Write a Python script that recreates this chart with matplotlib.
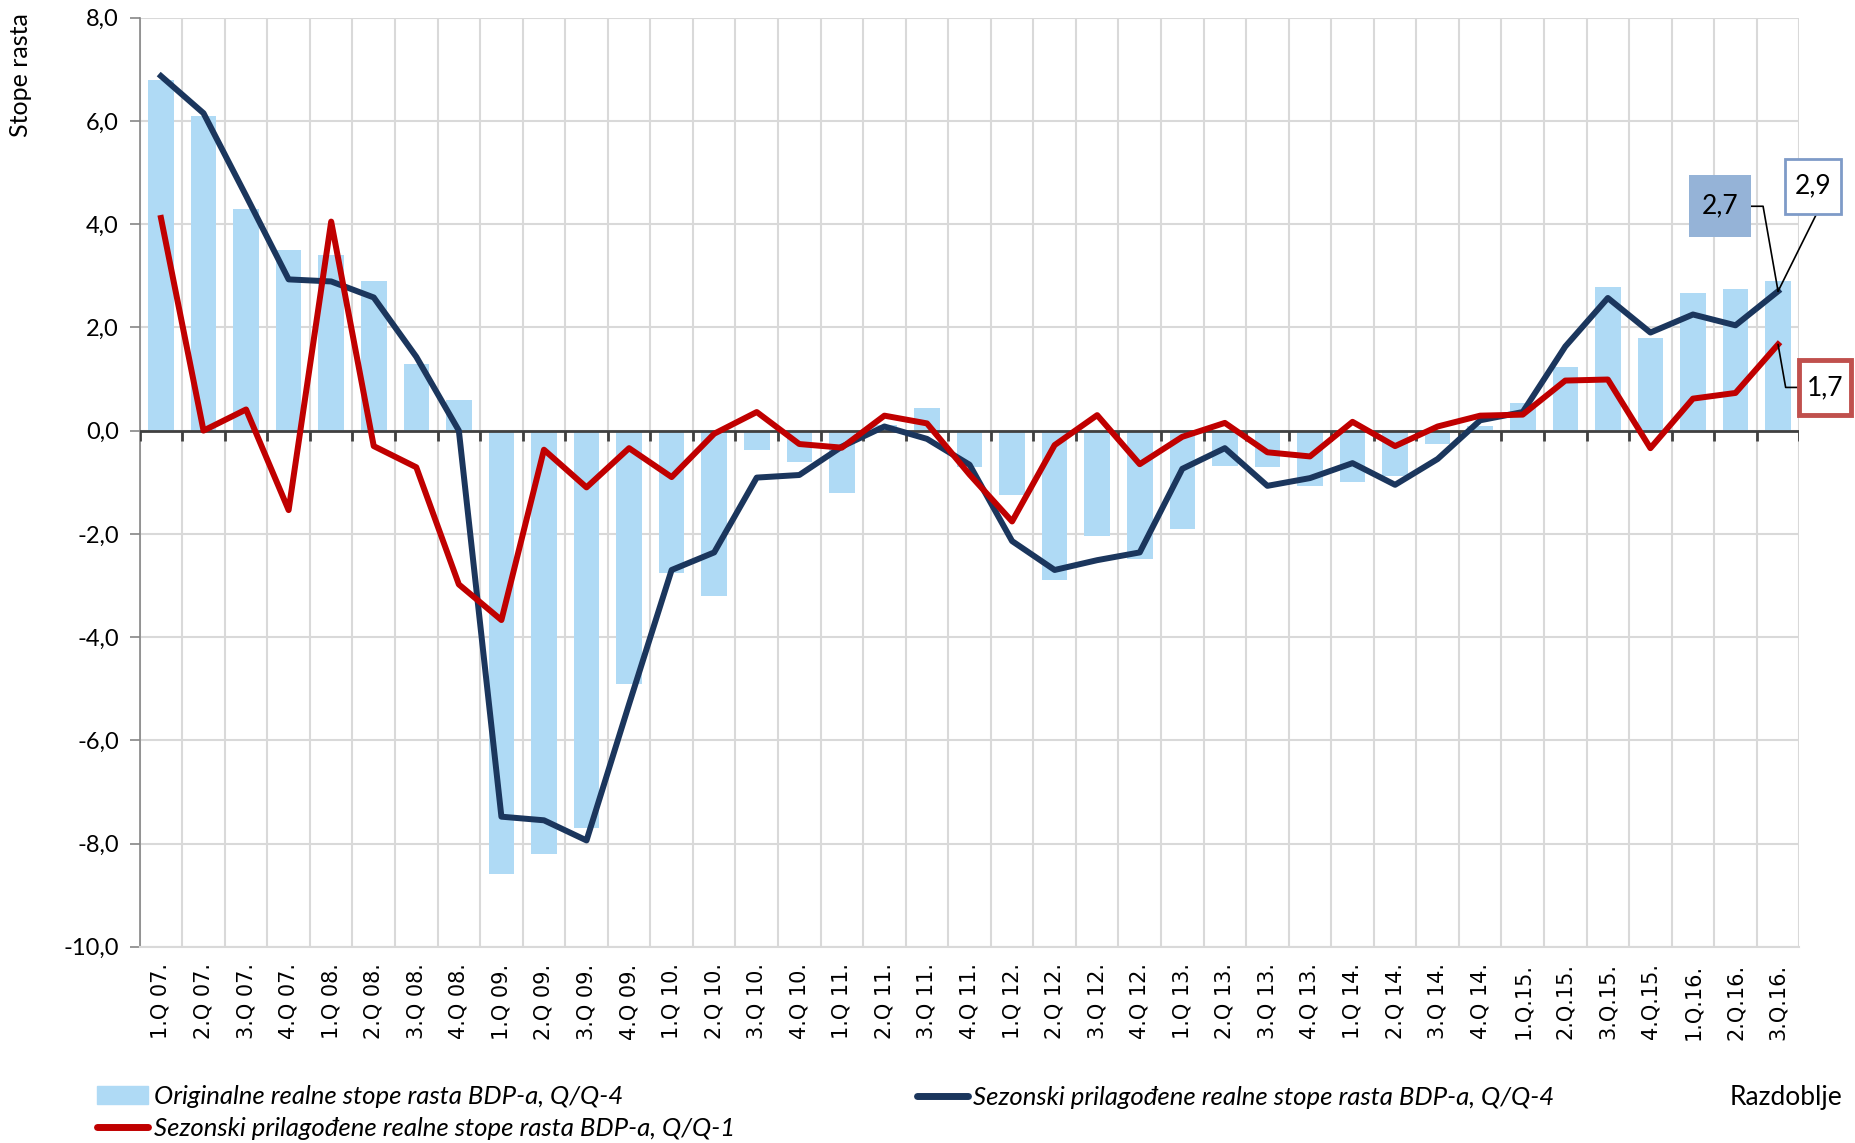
import matplotlib.pyplot as plt
import numpy as np
from matplotlib.patches import Patch
from matplotlib.lines import Line2D
from matplotlib.path import Path

# quarters 2007 - 2016
labels = ['1.Q 07.', '2.Q 07.', '3.Q 07.', '4.Q 07.',
          '1.Q 08.', '2.Q 08.', '3.Q 08.', '4.Q 08.',
          '1.Q 09.', '2.Q 09.', '3.Q 09.', '4.Q 09.',
          '1.Q 10.', '2.Q 10.', '3.Q 10.', '4.Q 10.',
          '1.Q 11.', '2.Q 11.', '3.Q 11.', '4.Q 11.',
          '1.Q 12.', '2.Q 12.', '3.Q 12.', '4.Q 12.',
          '1.Q 13.', '2.Q 13.', '3.Q 13.', '4.Q 13.',
          '1.Q 14.', '2.Q 14.', '3.Q 14.', '4.Q 14.',
          '1.Q.15.', '2.Q.15.', '3.Q.15.', '4.Q.15.',
          '1.Q.16.', '2.Q.16.', '3.Q.16.']

# original real GDP growth, Q/Q-4 (bars)
orig = [6.8, 6.1, 4.3, 3.5,
        3.4, 2.9, 1.3, 0.6,
        -8.6, -8.2, -7.7, -4.9,
        -2.75, -3.2, -0.37, -0.6,
        -1.2, 0.1, 0.43, -0.7,
        -1.25, -2.9, -2.05, -2.48,
        -1.9, -0.68, -0.7, -1.08,
        -0.99, -0.87, -0.26, 0.08,
        0.54, 1.24, 2.78, 1.8,
        2.66, 2.75, 2.9]

# seasonally adjusted, Q/Q-4 (dark blue line)
sa_yoy = [6.87, 6.15, 4.55, 2.93,
          2.89, 2.58, 1.43, 0.0,
          -7.48, -7.55, -7.94, -5.3,
          -2.7, -2.36, -0.91, -0.86,
          -0.31, 0.08, -0.16, -0.66,
          -2.14, -2.7, -2.51, -2.36,
          -0.74, -0.34, -1.07, -0.92,
          -0.63, -1.05, -0.55, 0.2,
          0.36, 1.63, 2.57, 1.9,
          2.25, 2.04, 2.7]

# seasonally adjusted, Q/Q-1 (red line)
sa_qoq = [4.12, 0.0, 0.41, -1.54,
          4.05, -0.3, -0.71, -2.98,
          -3.67, -0.37, -1.1, -0.34,
          -0.9, -0.06, 0.36, -0.26,
          -0.33, 0.29, 0.14, -0.85,
          -1.76, -0.28, 0.3, -0.65,
          -0.12, 0.15, -0.42, -0.5,
          0.17, -0.3, 0.08, 0.29,
          0.31, 0.97, 0.99, -0.34,
          0.62, 0.73, 1.67]

name_orig = 'Originalne realne stope rasta BDP-a, Q/Q-4'
name_qoq = 'Sezonski prilagođene realne stope rasta BDP-a, Q/Q-1'
name_yoy = 'Sezonski prilagođene realne stope rasta BDP-a, Q/Q-4'

c_bar = '#AFDAF5'
c_blue = '#1B365D'
c_red = '#C00000'
c_grid = '#D9D9D9'
font = 'Lato'


def fmt(v):
    return ('%.1f' % v).replace('.', ',')


def fixed_box(kw, kh):
    # square label box of fixed size (in font-size units) around the text
    def f(x0, y0, width, height, mutation_size):
        cx = x0 + width / 2
        cy = y0 + height / 2
        w = kw * mutation_size
        h = kh * mutation_size
        return Path([(cx - w / 2, cy - h / 2), (cx + w / 2, cy - h / 2),
                     (cx + w / 2, cy + h / 2), (cx - w / 2, cy + h / 2),
                     (cx - w / 2, cy - h / 2)], closed=True)
    return f


fig = plt.figure(figsize=(18.55, 11.43), dpi=100)
ax = fig.add_axes([0.0753, 0.1717, 0.8947, 0.8128])

x = np.arange(len(labels))
ax.bar(x, orig, width=0.6, color=c_bar, zorder=2)
ax.plot(x, sa_yoy, color=c_blue, lw=4.3, zorder=4)
ax.plot(x, sa_qoq, color=c_red, lw=4.3, zorder=5)

ax.set_xlim(-0.5, len(labels) - 0.5)
ax.set_ylim(-10, 8)

# y axis
yt = np.arange(-10, 9, 2)
ax.set_yticks(yt)
ax.set_yticklabels([fmt(v) for v in yt], fontsize=17, family=font)
ax.tick_params(axis='y', length=7, width=1.2, color='#868686', pad=8)

# x axis: labels at centres, grid at boundaries
ax.set_xticks(x)
ax.set_xticklabels(labels, rotation=90, fontsize=15, family='DejaVu Sans')
ax.tick_params(axis='x', which='major', length=0, pad=12)
ax.set_xticks(np.arange(-0.5, len(labels), 1), minor=True)
ax.tick_params(axis='x', which='minor', length=0)
ax.xaxis.grid(True, which='minor', color=c_grid, lw=1.5, zorder=0)
ax.yaxis.grid(True, color=c_grid, lw=1.5, zorder=0)
ax.set_axisbelow(True)

for s in ['top', 'right']:
    ax.spines[s].set_visible(False)
ax.spines['bottom'].set_color(c_grid)
ax.spines['bottom'].set_linewidth(1.5)
ax.spines['left'].set_color('#868686')
ax.spines['left'].set_linewidth(1.2)

# category axis crossing at zero
ax.axhline(0, color='#404040', lw=2, zorder=3)
ax.vlines(np.arange(-0.5, len(labels), 1), -0.2, 0, color='#404040', lw=2, zorder=3)

# labels for last quarter
last = len(labels) - 1
ax.annotate(fmt(sa_yoy[-1]), xy=(last, sa_yoy[-1]), xytext=(-58, 85),
            textcoords='offset pixels', ha='center', va='center',
            fontsize=19, family=font,
            bbox=dict(boxstyle=fixed_box(2.35, 2.35), fc='#95B3D7', ec='none'),
            arrowprops=dict(arrowstyle='-', color='black', lw=1.2, shrinkA=0, shrinkB=0,
                            connectionstyle='angle,angleA=0,angleB=100,rad=0'),
            annotation_clip=False, zorder=7)
ax.annotate(fmt(orig[-1]), xy=(last, sa_yoy[-1]), xytext=(35, 105),
            textcoords='offset pixels', ha='center', va='center',
            fontsize=19, family=font,
            bbox=dict(boxstyle=fixed_box(2.1, 2.1), fc='white', ec='#7E9BC8', lw=2),
            arrowprops=dict(arrowstyle='-', color='black', lw=1.2, shrinkA=0, shrinkB=0,
                            relpos=(0.8, 0)),
            annotation_clip=False, zorder=7)
ax.annotate(fmt(sa_qoq[-1]), xy=(last, sa_qoq[-1]), xytext=(47, -43),
            textcoords='offset pixels', ha='center', va='center',
            fontsize=19, family=font,
            bbox=dict(boxstyle=fixed_box(1.95, 2.1), fc='white', ec='#C0504D', lw=3.5),
            arrowprops=dict(arrowstyle='-', color='black', lw=1.2, shrinkA=0, shrinkB=0,
                            connectionstyle='angle,angleA=0,angleB=100,rad=0'),
            annotation_clip=False, zorder=7)

fig.text(0.0113, 0.9344, 'Stope rasta', rotation=90, ha='center', va='center',
         fontsize=18, family=font)

# legend
h_orig = Patch(color=c_bar)
h_qoq = Line2D([], [], color=c_red, lw=5, solid_capstyle='round')
h_yoy = Line2D([], [], color=c_blue, lw=5, solid_capstyle='round')
prop = dict(family=font, style='italic', size=18.5)
fig.legend([h_orig, h_qoq], [name_orig, name_qoq], loc='center left',
           bbox_to_anchor=(0.0523, 0.0266), frameon=False, prop=prop,
           borderpad=0, borderaxespad=0, handlelength=2.0, handletextpad=0.2,
           labelspacing=0.37)
fig.legend([h_yoy], [name_yoy], loc='center left',
           bbox_to_anchor=(0.4943, 0.0402), frameon=False, prop=prop,
           borderpad=0, borderaxespad=0, handlelength=2.0, handletextpad=0.2)
fig.text(0.9326, 0.0402, 'Razdoblje', ha='left', va='center', fontsize=19, family=font)

fig.savefig('out.png', dpi=100)
